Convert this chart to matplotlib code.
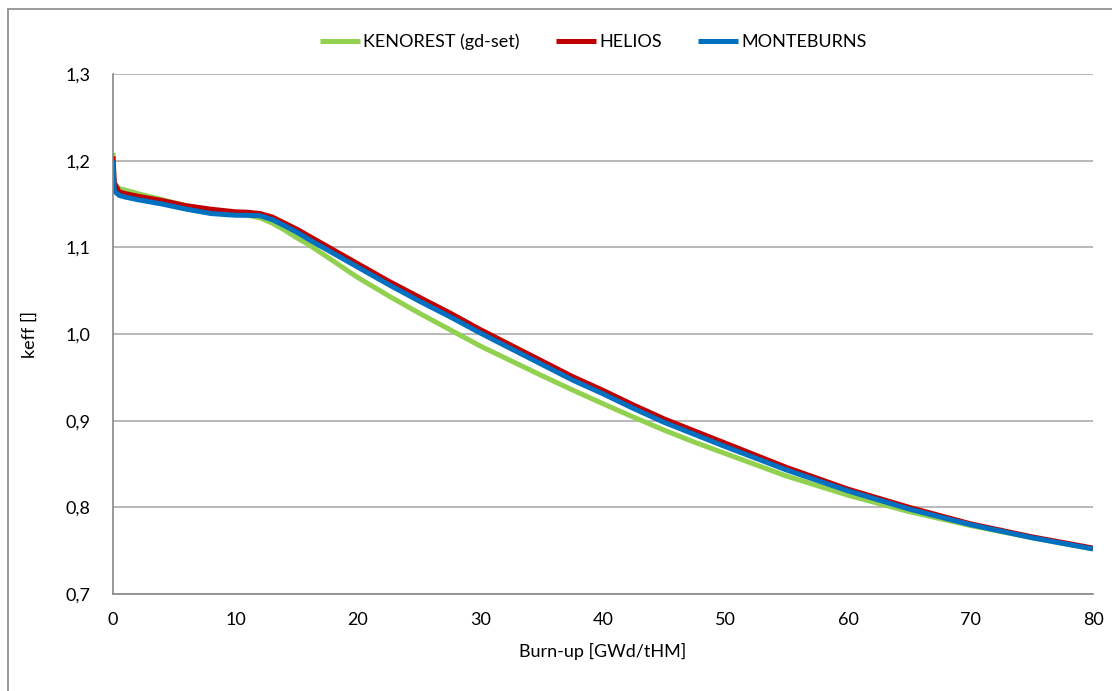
import matplotlib
matplotlib.use("Agg")
import matplotlib.pyplot as plt
from matplotlib.patches import Rectangle
from matplotlib.ticker import FuncFormatter, MultipleLocator

plt.rcParams['font.family'] = ['Lato', 'DejaVu Sans']

# burn-up steps [GWd/tHM]
burnup = [0, 0.1, 0.5, 1, 2, 4, 6, 8, 10, 11, 12, 13, 14, 15, 16, 18, 20,
          22.5, 25, 27.5, 30, 32.5, 35, 37.5, 40, 42.5, 45, 47.5, 50,
          55, 60, 65, 70, 75, 80]

keff_kenorest = [1.209, 1.172, 1.168, 1.166, 1.162, 1.155, 1.148, 1.143, 1.139, 1.137,
                 1.134, 1.128, 1.120, 1.111, 1.103, 1.084, 1.065,
                 1.044, 1.024, 1.005, 0.986, 0.969, 0.952, 0.9355, 0.9195, 0.904,
                 0.889, 0.875, 0.862, 0.836, 0.814, 0.795, 0.779, 0.765, 0.752]

keff_helios = [1.205, 1.175, 1.164, 1.162, 1.159, 1.154, 1.148, 1.144, 1.141, 1.1405,
               1.139, 1.135, 1.128, 1.121, 1.113, 1.097, 1.081,
               1.061, 1.0425, 1.0243, 1.005, 0.987, 0.969, 0.951, 0.935, 0.918,
               0.902, 0.888, 0.874, 0.846, 0.821, 0.800, 0.781, 0.766, 0.753]

keff_monteburns = [1.200, 1.165, 1.160, 1.158, 1.155, 1.150, 1.144, 1.139, 1.137, 1.137,
                   1.1365, 1.132, 1.125, 1.1175, 1.109, 1.093, 1.077,
                   1.057, 1.038, 1.020, 1.001, 0.983, 0.965, 0.947, 0.931, 0.914,
                   0.898, 0.884, 0.870, 0.843, 0.819, 0.798, 0.780, 0.765, 0.752]

series = [
    ("KENOREST (gd-set)", keff_kenorest, "#92D050"),
    ("HELIOS", keff_helios, "#C00000"),
    ("MONTEBURNS", keff_monteburns, "#0070C0"),
]

fig = plt.figure(figsize=(11.12, 6.91), dpi=100)
ax = fig.add_axes([113 / 1112, 97 / 691, 980 / 1112, 520 / 691])

for name, vals, col in series:
    ax.plot(burnup, vals, color=col, lw=3.6, label=name, solid_capstyle='butt')

ax.set_xlim(0, 80)
ax.set_ylim(0.7, 1.3)
ax.xaxis.set_major_locator(MultipleLocator(10))
ax.yaxis.set_major_locator(MultipleLocator(0.1))
ax.yaxis.set_major_formatter(FuncFormatter(lambda v, p: f"{v:.1f}".replace(".", ",")))

ax.grid(axis='y', color='#A6A6A6', lw=1.1)
ax.set_axisbelow(True)
for s in ('top', 'right'):
    ax.spines[s].set_visible(False)
for s in ('left', 'bottom'):
    ax.spines[s].set_color('#888888')
    ax.spines[s].set_linewidth(1.2)
ax.tick_params(length=0, labelsize=13, colors='black', pad=16)
ax.tick_params(axis='x', pad=13)

ax.set_xlabel("Burn-up [GWd/tHM]", fontsize=13, labelpad=11)
ax.set_ylabel("keff []", fontsize=13, labelpad=20)

ax.legend(loc='lower center', bbox_to_anchor=(0.49, 1.015), ncol=3, frameon=False,
          fontsize=13, handlelength=2.2, handletextpad=0.2, columnspacing=2.0)

# outer chart border
fig.patches.append(Rectangle((8 / 1112, -0.1), 1.2, (691 - 9) / 691 + 0.1,
                             transform=fig.transFigure, fill=False,
                             edgecolor='#888888', lw=1.2))

fig.savefig("out.png", dpi=100)
